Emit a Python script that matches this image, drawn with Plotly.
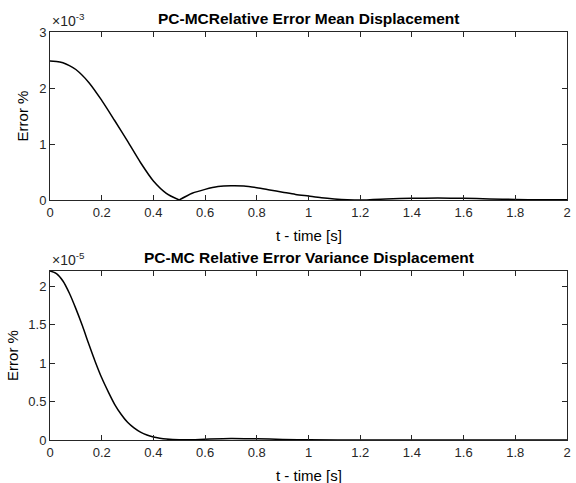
import plotly.graph_objects as go

# Top: relative error of mean displacement (units of 1e-3)
t_mean_a = [0.0, 0.025, 0.05, 0.075, 0.1, 0.15, 0.2, 0.25, 0.3, 0.35, 0.4, 0.45, 0.5]
err_mean_a = [2.48, 2.475, 2.45, 2.40, 2.33, 2.10, 1.78, 1.42, 1.05, 0.67, 0.34, 0.12, 0.0]
t_mean_b = [0.5, 0.55, 0.6, 0.65, 0.7, 0.75, 0.8, 0.85, 0.9, 0.95, 1.0, 1.05, 1.1, 1.15, 1.2,
            1.25, 1.3, 1.4, 1.5, 1.6, 1.7, 1.8, 1.9, 2.0]
err_mean_b = [0.0, 0.12, 0.19, 0.24, 0.255, 0.25, 0.22, 0.18, 0.14, 0.10, 0.07, 0.04, 0.02, 0.006, 0.0,
              0.008, 0.018, 0.03, 0.035, 0.03, 0.02, 0.01, 0.003, 0.004]

# Bottom: relative error of variance displacement (units of 1e-5)
t_var = [0.0, 0.025, 0.05, 0.075, 0.1, 0.125, 0.15, 0.175, 0.2, 0.225, 0.25, 0.275, 0.3, 0.325,
         0.35, 0.375, 0.4, 0.425, 0.45, 0.5, 0.55, 0.6, 0.7, 0.8, 0.9, 1.0, 1.2, 1.5, 2.0]
err_var = [2.2, 2.165, 2.07, 1.91, 1.71, 1.49, 1.25, 1.02, 0.81, 0.63, 0.465, 0.335, 0.23, 0.157,
           0.102, 0.065, 0.04, 0.024, 0.013, 0.003, 0.004, 0.01, 0.02, 0.015, 0.008, 0.003, 0.0005,
           0.001, 0.0]

top_title = "PC-MCRelative Error Mean Displacement"
bot_title = "PC-MC Relative Error Variance Displacement"
x_label = "t - time [s]"
y_label = "Error %"
x_ticks = [0, 0.2, 0.4, 0.6, 0.8, 1, 1.2, 1.4, 1.6, 1.8, 2]
top_yticks = [0, 1, 2, 3]
bot_yticks = [0, 0.5, 1, 1.5, 2]

W, H = 576, 483
L, R, T, B = 50, 570.7, 32, 440
plot_h = B - T
top_dom = [(B - 200) / plot_h, 1.0]
bot_dom = [0.0, (B - 271) / plot_h]

FONT = "Liberation Sans, Arial, sans-serif"

fig = go.Figure()
line = dict(color="#000000", width=1.5, shape="spline", smoothing=0.8)
fig.add_trace(go.Scatter(x=t_mean_a, y=err_mean_a, mode="lines", line=line,
                         xaxis="x", yaxis="y", showlegend=False))
fig.add_trace(go.Scatter(x=t_mean_b, y=err_mean_b, mode="lines", line=line,
                         xaxis="x", yaxis="y", showlegend=False))
fig.add_trace(go.Scatter(x=t_var, y=err_var, mode="lines", line=line,
                         xaxis="x2", yaxis="y2", showlegend=False))

axcol = "#262626"
tickfont = dict(family=FONT, size=13, color=axcol)
labfont = dict(family=FONT, size=15, color="#000")
common_x = dict(range=[0, 2], tickvals=x_ticks, ticks="inside", ticklen=5, tickcolor=axcol,
                showline=True, linecolor=axcol, linewidth=1, mirror="allticks", showgrid=False,
                zeroline=False, tickfont=tickfont, ticklabeloverflow="allow")
common_y = dict(ticks="inside", ticklen=5, tickcolor=axcol, showline=True, linecolor=axcol, linewidth=1,
                mirror="allticks", showgrid=False, zeroline=False, tickfont=tickfont,
                title=dict(text=y_label, font=labfont, standoff=6))

fig.update_layout(
    width=W, height=H,
    margin=dict(l=L, r=W - R, t=T, b=H - B, pad=0),
    paper_bgcolor="white", plot_bgcolor="white",
    xaxis=dict(**common_x, domain=[0, 1], anchor="y"),
    yaxis=dict(**common_y, domain=top_dom, range=[0, 3], tickvals=top_yticks, anchor="x"),
    xaxis2=dict(**common_x, domain=[0, 1], anchor="y2"),
    yaxis2=dict(**common_y, domain=bot_dom, range=[0, 2.2], tickvals=bot_yticks, anchor="x2"),
)

# x-axis labels
for dom in (top_dom, bot_dom):
    fig.add_annotation(text=x_label, xref="paper", yref="paper", x=0.5, y=dom[0], yshift=-35,
                       xanchor="center", yanchor="middle", showarrow=False, font=labfont)

tfont = dict(family=FONT, size=15.5, color="#000")
fig.add_annotation(text="<b>" + top_title + "</b>", xref="paper", yref="paper", x=0.5, y=top_dom[1],
                   yshift=3, xanchor="center", yanchor="bottom", showarrow=False, font=tfont)
fig.add_annotation(text="<b>" + bot_title + "</b>", xref="paper", yref="paper", x=0.5, y=bot_dom[1],
                   yshift=3, xanchor="center", yanchor="bottom", showarrow=False, font=tfont)
efont = dict(family=FONT, size=14, color=axcol)
fig.add_annotation(text="×10<sup>-3</sup>", xref="paper", yref="paper", x=0, y=top_dom[1],
                   xshift=0, yshift=1, xanchor="left", yanchor="bottom", showarrow=False, font=efont)
fig.add_annotation(text="×10<sup>-5</sup>", xref="paper", yref="paper", x=0, y=bot_dom[1],
                   xshift=0, yshift=1, xanchor="left", yanchor="bottom", showarrow=False, font=efont)

fig.write_html("out.html", config={"displayModeBar": False},
               post_script="document.body.style.margin='0';document.body.style.overflow='hidden';")
